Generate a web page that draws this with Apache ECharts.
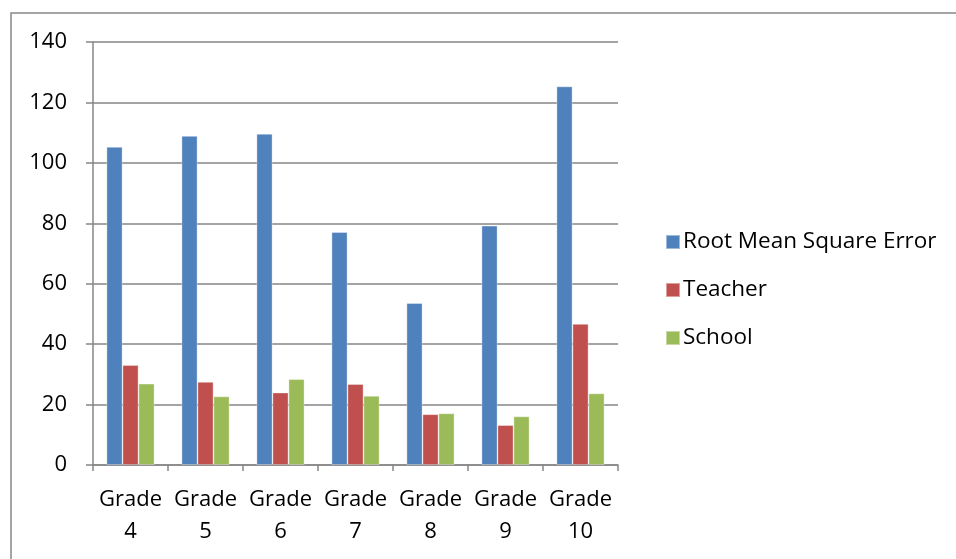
<!DOCTYPE html>
<html>
<head>
<meta charset="utf-8">
<script src="https://cdn.jsdelivr.net/npm/echarts@6/dist/echarts.min.js"></script>
<style>html,body{margin:0;padding:0;background:#fff;}#c{width:956px;height:559px;}</style>
</head>
<body>
<div id="c"></div>
<script>
const categories = ['Grade\n4','Grade\n5','Grade\n6','Grade\n7','Grade\n8','Grade\n9','Grade\n10'];
const seriesNames = ['Root Mean Square Error','Teacher','School'];
const rmse = [105.3, 108.9, 109.6, 77.1, 53.6, 79.2, 125.3];
const teacher = [33.1, 27.5, 24.0, 26.8, 16.8, 13.2, 46.7];
const school = [26.9, 22.7, 28.4, 22.9, 17.1, 16.1, 23.7];
const yTicks = {min: 0, max: 140, interval: 20};
const colors = ['#4F81BD','#C0504D','#9BBB59'];

const chart = echarts.init(document.getElementById('c'));
const font = '"Open Sans", "Noto Sans", sans-serif';
const mk = (name, data, i) => ({
  name, type: 'bar', data, barGap: '0%', barCategoryGap: '36%',
  itemStyle: {color: colors[i], borderColor: 'rgba(255,255,255,0.45)', borderWidth: 0.8},
  animation: false
});
chart.setOption({
  animation: false,
  graphic: [{type:'rect', shape:{x:11, y:13, width:1000, height:600}, style:{fill:'none', stroke:'#888', lineWidth:1.5}, z:-1}],
  grid: {left: 93, right: 338, top: 42, bottom: 94, containLabel: false},
  legend: {
    orient: 'vertical', left: 660, top: 225, itemWidth: 14, itemHeight: 14, itemGap: 24,
    icon: 'rect', textStyle: {fontFamily: font, fontSize: 22.5, lineHeight: 24, color: '#000', padding:[0,0,0,-2]},
    data: seriesNames
  },
  xAxis: {
    type: 'category', data: categories,
    axisLine: {lineStyle: {color: '#868686', width: 1.5}},
    axisTick: {show: true, interval: 0, length: 6, lineStyle: {color: '#868686', width: 1.5}},
    axisLabel: {interval: 0, hideOverlap: false, fontFamily: font, fontSize: 22, color: '#000', margin: 19, lineHeight: 32}
  },
  yAxis: {
    type: 'value', min: yTicks.min, max: yTicks.max, interval: yTicks.interval,
    axisLine: {show: true, lineStyle: {color: '#868686', width: 1.5}},
    axisTick: {show: true, length: 7, lineStyle: {color: '#868686', width: 1.5}},
    splitLine: {lineStyle: {color: '#868686', width: 1.5}},
    axisLabel: {fontFamily: font, fontSize: 22, color: '#000', margin: 26}
  },
  series: [mk(seriesNames[0], rmse, 0), mk(seriesNames[1], teacher, 1), mk(seriesNames[2], school, 2)]
});
</script>
</body>
</html>
